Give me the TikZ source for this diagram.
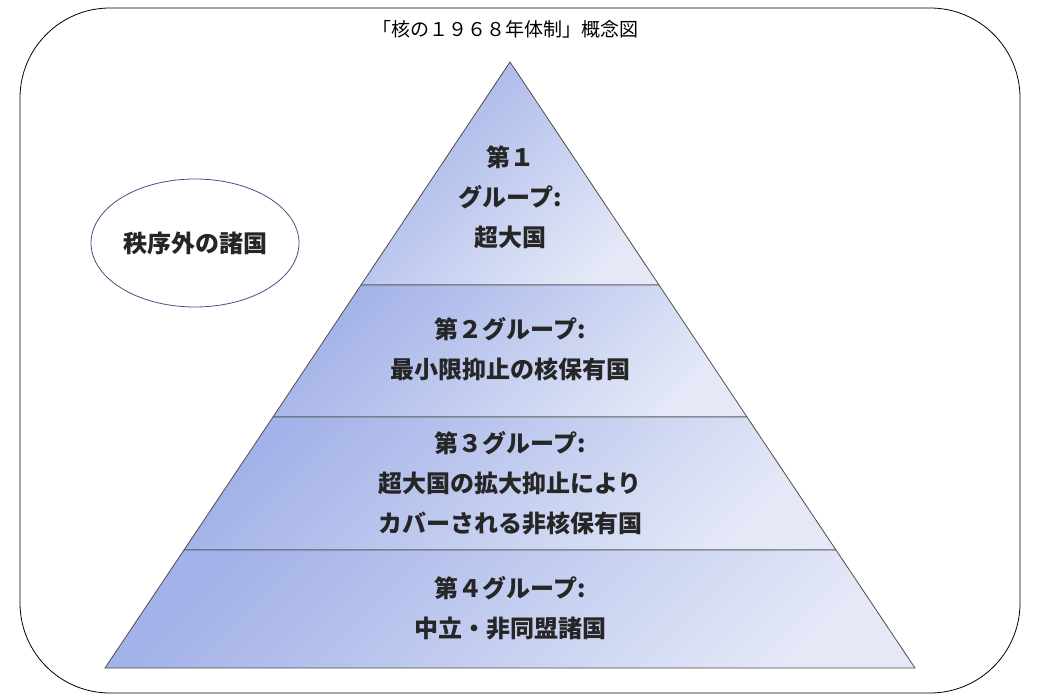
\documentclass[tikz,border=0pt]{standalone}
\usetikzlibrary{shapes.geometric}
\usepackage{fontspec}
\setmainfont{Noto Sans CJK JP}
\definecolor{dk}{HTML}{A3B2E8}
\definecolor{lt}{HTML}{E4E8F7}
\begin{document}
\begin{tikzpicture}[x=1pt,y=-1pt,
  lay/.style={draw=black!70,line width=0.8pt,top color=dk,bottom color=lt,shading angle=45},
  lbl/.style={font=\fontsize{24}{40}\selectfont\bfseries,align=center,text=black!85}]
\useasboundingbox (0,0) rectangle (1041,700);
\draw[line width=0.8pt,rounded corners=90pt] (20,8) rectangle (1020,693);
\node[font=\fontsize{19}{22}\selectfont] (t) at (505,29) {「核の１９６８年体制」概念図};
\path[lay] (510,62) -- (659,285) -- (361,285) -- cycle;
\path[lay] (361,285) -- (659,285) -- (747,417) -- (273,417) -- cycle;
\path[lay] (273,417) -- (747,417) -- (836,550) -- (184,550) -- cycle;
\path[lay] (184,550) -- (836,550) -- (915,668) -- (105,668) -- cycle;
\node[lbl] (g1) at (510,197) {第１\\グループ:\\超大国};
\node[lbl] (g2) at (510,349) {第２グループ:\\最小限抑止の核保有国};
\node[lbl] (g3) at (510,483) {第３グループ:\\超大国の拡大抑止により\\カバーされる非核保有国};
\node[lbl] (g4) at (510,608) {第４グループ:\\中立・非同盟諸国};
\node[draw=blue!30!black!70,line width=0.8pt,ellipse,minimum width=208pt,minimum height=128pt] (e) at (195,243) {};
\node[lbl] at (e) {秩序外の諸国};
\end{tikzpicture}
\end{document}
